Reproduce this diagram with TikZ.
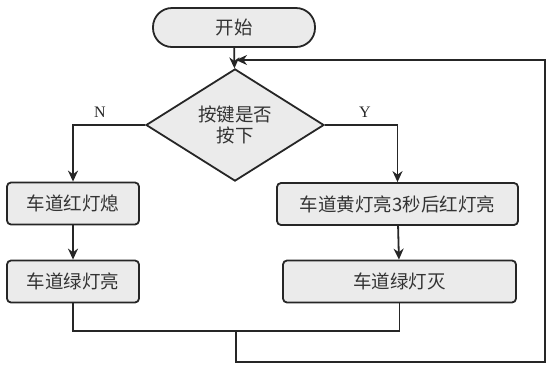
\documentclass[tikz,border=0pt]{standalone}
\usepackage{fontspec}
\newfontfamily\cjk{Noto Sans CJK SC}
\setmainfont{Liberation Serif}
\usetikzlibrary{shapes.geometric, arrows.meta, positioning, calc}

\definecolor{boxgray}{HTML}{EBEBEB}
\definecolor{linedark}{HTML}{262626}

\begin{document}
\begin{tikzpicture}[
  x=1pt, y=-1pt,
  box/.style = {
    rectangle, rounded corners=4pt,
    draw=linedark, fill=boxgray, line width=1.8pt,
    minimum height=42pt, inner sep=2pt,
    font=\cjk\fontsize{18.5}{22}\selectfont, text=black!80
  },
  startbox/.style = {box, rounded corners=19pt, minimum width=162pt, minimum height=39pt},
  decbox/.style   = {box, diamond, rounded corners=0pt, minimum width=178pt,
                     minimum height=90pt, inner sep=0pt, align=center,
                     font=\cjk\fontsize{18.5}{21}\selectfont},
  arr/.style      = {-{Stealth[length=11pt,width=10pt]}, line width=1.8pt, linedark},
  ln/.style       = {line width=1.8pt, linedark},
  lbl/.style      = {font=\fontsize{16}{18}\selectfont, text=black!85}
]
\useasboundingbox (0,0) rectangle (551,368);

%% ---- start and decision ----
\node[startbox] (start) at (234,27.5) {开始};
\node[decbox] (dec) at (235,125) {按键是否\\按下};
\coordinate (join) at (236,60);

\draw[arr] (start) -- (dec);

%% ---- N branch (left) ----
\node[box, minimum width=132pt] (red)   at (73,203.5) {车道红灯熄};
\node[box, minimum width=132pt] (green) at (73,281.5) {车道绿灯亮};

\draw[arr] (dec.west) -| (red);
\draw[arr] (red) -- (green);
\node[lbl] at (100,112) {N};

%% ---- Y branch (right) ----
\node[box, minimum width=241pt] (yellow)   at (397.5,204) {车道黄灯亮3秒后红灯亮};
\node[box, minimum width=233pt] (greenoff) at (399.5,281.5) {车道绿灯灭};

\draw[arr] (dec.east) -| (yellow);
\draw[arr] (yellow) -- (greenoff);
\node[lbl] at (365,112) {Y};

%% ---- loop back ----
\coordinate (merge)  at (236,331);
\coordinate (corner) at (545,362);

\draw[ln] (green) |- (merge) -| (greenoff);
\draw[arr] (merge) |- (corner) |- (join);

\end{tikzpicture}
\end{document}
